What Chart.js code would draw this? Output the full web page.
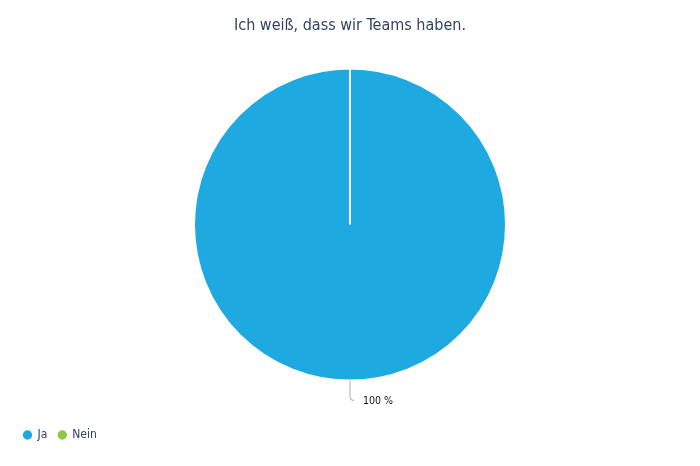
<!DOCTYPE html>
<html>
<head>
<meta charset="utf-8">
<title>Ich weiß, dass wir Teams haben.</title>
<script src="https://cdn.jsdelivr.net/npm/chart.js"></script>
<style>
    body { margin: 0; background: #fff; }
    #chart-box { width: 700px; height: 466px; position: relative; }
</style>
</head>
<body>
<div id="chart-box"><canvas id="charts-teams"></canvas></div>
<script>
var answers = ['Ja', 'Nein'];
var percents = [100, 0];
var answerColors = ['#1fa9e1', '#8dc63f'];
var chartTitle = 'Ich weiß, dass wir Teams haben.';

var condensed = '"DejaVu Sans Condensed", "DejaVu Sans"';

// value label next to each slice, with a little leader line
var sliceLabels = {
    id: 'sliceLabels',
    afterDatasetsDraw: function(chart) {
        var ctx = chart.ctx;
        var meta = chart.getDatasetMeta(0);
        meta.data.forEach(function(arc, i) {
            var value = chart.data.datasets[0].data[i];
            if (!value) return;
            var p = arc.getProps(['x', 'y', 'startAngle', 'endAngle', 'outerRadius'], true);
            var mid = (p.startAngle + p.endAngle) / 2;
            var cos = Math.cos(mid), sin = Math.sin(mid);
            var side = cos < -0.01 ? -1 : 1;
            var x0 = p.x + cos * p.outerRadius, y0 = p.y + sin * p.outerRadius;
            var x1 = p.x + cos * (p.outerRadius + 16), y1 = p.y + sin * (p.outerRadius + 16);
            var x2 = p.x + cos * (p.outerRadius + 20), y2 = p.y + sin * (p.outerRadius + 20);
            ctx.save();
            ctx.strokeStyle = '#aaaaaa';
            ctx.lineWidth = 1;
            ctx.beginPath();
            ctx.moveTo(x0, y0);
            ctx.lineTo(x1, y1);
            ctx.quadraticCurveTo(x2, y2, x2 + side * 4, y2);
            ctx.stroke();
            ctx.fillStyle = '#111111';
            ctx.font = '10.5px ' + condensed;
            ctx.textAlign = side > 0 ? 'left' : 'right';
            ctx.textBaseline = 'middle';
            ctx.fillText(value + ' %', x2 + side * 13, y2 + 1);
            ctx.restore();
        });
    }
};

var config = {
    type: 'pie',
    data: {
        labels: answers,
        datasets: [
            {
                data: percents,
                backgroundColor: answerColors,
                borderColor: '#ffffff',
                borderWidth: 2,
            }
        ]
    },
    options: {
        responsive: true,
        maintainAspectRatio: false,
        animation: false,
        radius: 156,
        layout: {
            padding: { left: 12.5, right: 12.5, top: 0, bottom: 15 }
        },
        plugins: {
            title: {
                display: true,
                text: chartTitle,
                color: '#2f4560',
                font: { family: condensed, size: 16, weight: 'normal', lineHeight: 0.7 },
                padding: { top: 20, bottom: 0 }
            },
            legend: {
                position: 'bottom',
                align: 'start',
                labels: {
                    usePointStyle: true,
                    pointStyle: 'circle',
                    boxWidth: 8,
                    boxHeight: 8,
                    padding: 11,
                    color: '#2f4560',
                    font: { family: condensed, size: 12 }
                }
            },
            tooltip: { enabled: false }
        }
    },
    plugins: [sliceLabels]
};

var teamsChart = new Chart(document.getElementById('charts-teams'), config);
</script>
</body>
</html>
